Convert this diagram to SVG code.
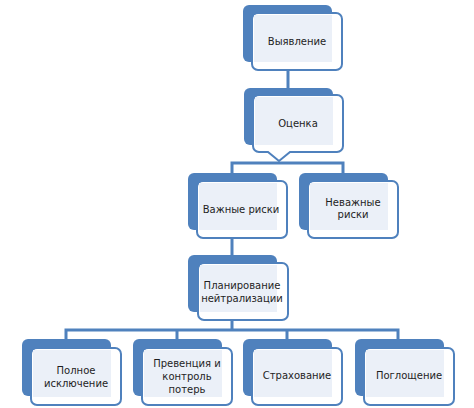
<svg xmlns="http://www.w3.org/2000/svg" width="474" height="408" viewBox="0 0 474 408">
<style>
.back{fill:#4f81bd}
.front{fill:#ffffff;stroke:#4f81bd;stroke-width:2}
.inner{fill:#ebf0f8}
.conn{fill:none;stroke:#4f81bd;stroke-width:3}
text{font-family:"DejaVu Sans",sans-serif;font-size:10px;fill:#1e1e1e;text-anchor:middle}
</style>
<rect width="474" height="408" fill="#ffffff"/>
<g id="connectors">
<path class="conn" d="M288 70 V89"/>
<path class="conn" d="M232 173 V163 H343 V173"/>
<path class="conn" d="M232 238 V256"/>
<path class="conn" d="M232 320 V330 M66 340 V330 H398 V340 M177 330 V340 M287 330 V340"/>
</g>
<g id="n1">
<rect class="back" x="243" y="5" width="89" height="57" rx="6"/>
<rect class="front" x="252" y="13" width="90" height="57" rx="6"/>
<rect class="inner" x="254" y="15" width="78" height="47"/>
<text x="297" y="45">Выявление</text>
</g>
<g id="n2">
<rect class="back" x="244" y="88" width="89" height="57" rx="6"/>
<path class="front" d="M259 95 H337 A6 6 0 0 1 343 101 V146 A6 6 0 0 1 337 152 H290 L279 161 L268 152 H259 A6 6 0 0 1 253 146 V101 A6 6 0 0 1 259 95 Z"/>
<rect class="inner" x="255" y="97" width="78" height="48"/>
<text x="298" y="127">Оценка</text>
</g>
<g id="n3">
<rect class="back" x="188" y="173" width="89" height="57" rx="6"/>
<rect class="front" x="197" y="181" width="90" height="57" rx="6"/>
<rect class="inner" x="199" y="183" width="78" height="47"/>
<text x="241" y="213">Важные риски</text>
</g>
<g id="n4">
<rect class="back" x="299" y="173" width="89" height="57" rx="6"/>
<rect class="front" x="308" y="181" width="90" height="57" rx="6"/>
<rect class="inner" x="310" y="183" width="78" height="47"/>
<text x="353" y="206">Неважные</text>
<text x="353" y="218">риски</text>
</g>
<g id="n5">
<rect class="back" x="188" y="255" width="89" height="57" rx="6"/>
<rect class="front" x="198" y="263" width="90" height="57" rx="6"/>
<rect class="inner" x="200" y="265" width="77" height="47"/>
<text x="242" y="289">Планирование</text>
<text x="242" y="302">нейтрализации</text>
</g>
<g id="n6">
<rect class="back" x="22" y="339" width="89" height="57" rx="6"/>
<rect class="front" x="31" y="348" width="90" height="57" rx="6"/>
<rect class="inner" x="33" y="350" width="78" height="47"/>
<text x="76" y="374">Полное</text>
<text x="76" y="387">исключение</text>
</g>
<g id="n7">
<rect class="back" x="133" y="339" width="89" height="57" rx="6"/>
<rect class="front" x="142" y="348" width="90" height="57" rx="6"/>
<rect class="inner" x="144" y="350" width="78" height="47"/>
<text x="187" y="367">Превенция и</text>
<text x="187" y="380">контроль</text>
<text x="187" y="393">потерь</text>
</g>
<g id="n8">
<rect class="back" x="243" y="339" width="89" height="57" rx="6"/>
<rect class="front" x="252" y="348" width="90" height="57" rx="6"/>
<rect class="inner" x="254" y="350" width="78" height="47"/>
<text x="297" y="379">Страхование</text>
</g>
<g id="n9">
<rect class="back" x="355" y="339" width="89" height="57" rx="6"/>
<rect class="front" x="364" y="348" width="90" height="57" rx="6"/>
<rect class="inner" x="366" y="350" width="78" height="47"/>
<text x="409" y="379">Поглощение</text>
</g>
</svg>
